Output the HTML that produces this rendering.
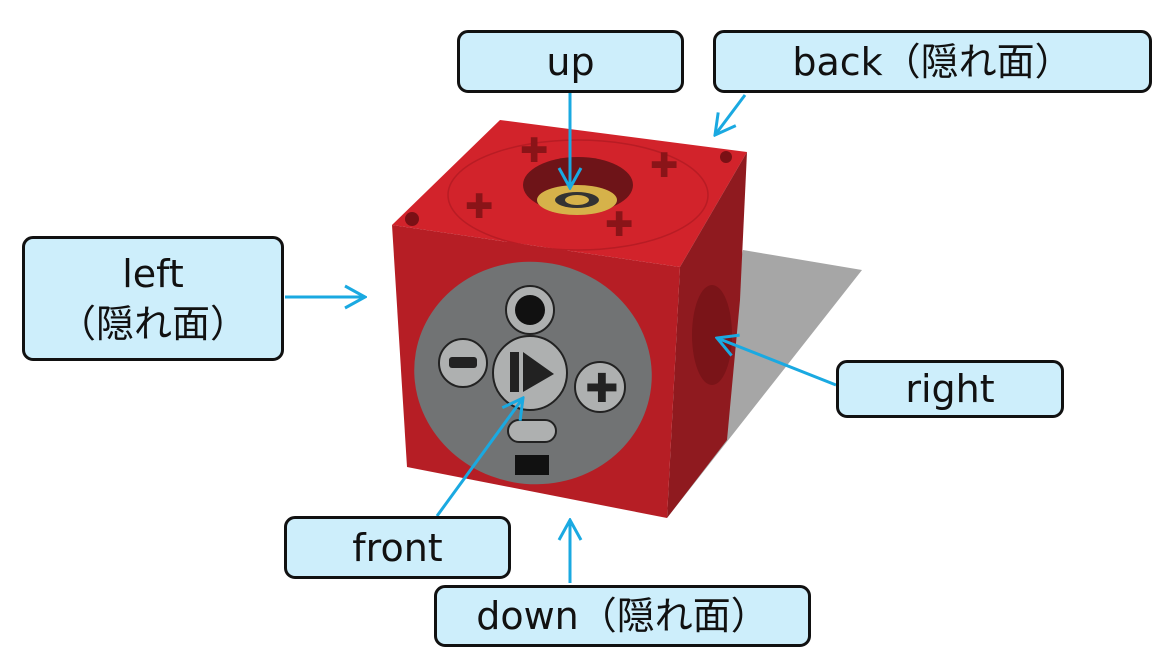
<!DOCTYPE html><html><head><meta charset="utf-8"><style>
body{margin:0;width:1167px;height:666px;background:#fff;overflow:hidden;position:relative;font-family:"DejaVu Sans","Noto Sans CJK JP",sans-serif}
.b{position:absolute;background:#cdeefb;border:3px solid #111;border-radius:11px;box-sizing:border-box;display:flex;align-items:center;justify-content:center;text-align:center;font-size:38px;line-height:50px;color:#111}
svg{position:absolute;left:0;top:0}
</style></head><body>
<svg width="1167" height="666">
<defs>
<marker id="m" markerWidth="26" markerHeight="26" refX="24" refY="13" orient="auto" markerUnits="userSpaceOnUse"><path d="M4,2 L24,13 L4,24" fill="none" stroke="#1aa9e1" stroke-width="3"/></marker></defs>
<polygon points="743,250 862,270 667,518 700,420" fill="#a6a6a6"/>
<polygon points="500,120 747,152 680,267 392,225" fill="#d2232b"/>
<ellipse cx="578" cy="195" rx="130" ry="55" fill="none" stroke="#b81c24" stroke-width="1.5"/>
<polygon points="680,267 747,152 740,300 727,440 667,518" fill="#8f1a1f"/>
<polygon points="392,225 680,267 667,518 407,467" fill="#b61e25"/>
<ellipse cx="578" cy="185" rx="55" ry="28" fill="#6e1418"/>
<ellipse cx="577" cy="200" rx="40" ry="15" fill="#d6b24a"/>
<ellipse cx="577" cy="200" rx="22" ry="8" fill="#333"/><ellipse cx="577" cy="200" rx="12" ry="5" fill="#d6b24a"/>
<g fill="#8a1418" font-size="34" font-weight="bold"><text x="520" y="162">✚</text><text x="650" y="177">✚</text><text x="465" y="218">✚</text><text x="605" y="236">✚</text></g>
<circle cx="412" cy="219" r="7" fill="#7a1015"/><circle cx="726" cy="157" r="6" fill="#7a1015"/>
<ellipse cx="712" cy="335" rx="20" ry="50" fill="#7a1418"/>
<ellipse cx="533" cy="373" rx="119" ry="111" transform="rotate(10 533 373)" fill="#717374"/>
<g stroke="#222" stroke-width="2" fill="#aeb0b0"><circle cx="530" cy="310" r="24"/><circle cx="463" cy="363" r="24"/><circle cx="530" cy="373" r="37"/><circle cx="600" cy="387" r="25"/><rect x="508" y="420" width="48" height="22" rx="11"/></g>
<circle cx="530" cy="310" r="15" fill="#111"/><rect x="449" y="357" width="28" height="11" rx="3" fill="#222"/>
<rect x="510" y="352" width="9" height="40" fill="#222"/><polygon points="523,352 523,392 554,374" fill="#222"/>
<text x="585" y="402" font-size="40" font-weight="bold" fill="#222">✚</text>
<rect x="515" y="455" width="34" height="20" fill="#111"/>
<g stroke="#1aa9e1" stroke-width="3" fill="none" marker-end="url(#m)">
<line x1="570" y1="92" x2="570" y2="188"/><line x1="745" y1="95" x2="715" y2="135"/><line x1="285" y1="297" x2="365" y2="297"/><line x1="836" y1="385" x2="717" y2="338"/><line x1="437" y1="516" x2="523" y2="398"/><line x1="570" y1="583" x2="570" y2="520"/></g>
</svg>
<div class="b" style="left:457px;top:30px;width:227px;height:63px">up</div>
<div class="b" style="left:713px;top:30px;width:439px;height:63px">back（隠れ面）</div>
<div class="b" style="left:22px;top:236px;width:262px;height:125px">left<br>（隠れ面）</div>
<div class="b" style="left:836px;top:360px;width:228px;height:58px">right</div>
<div class="b" style="left:284px;top:516px;width:227px;height:63px">front</div>
<div class="b" style="left:434px;top:585px;width:377px;height:62px">down（隠れ面）</div>
</body></html>
